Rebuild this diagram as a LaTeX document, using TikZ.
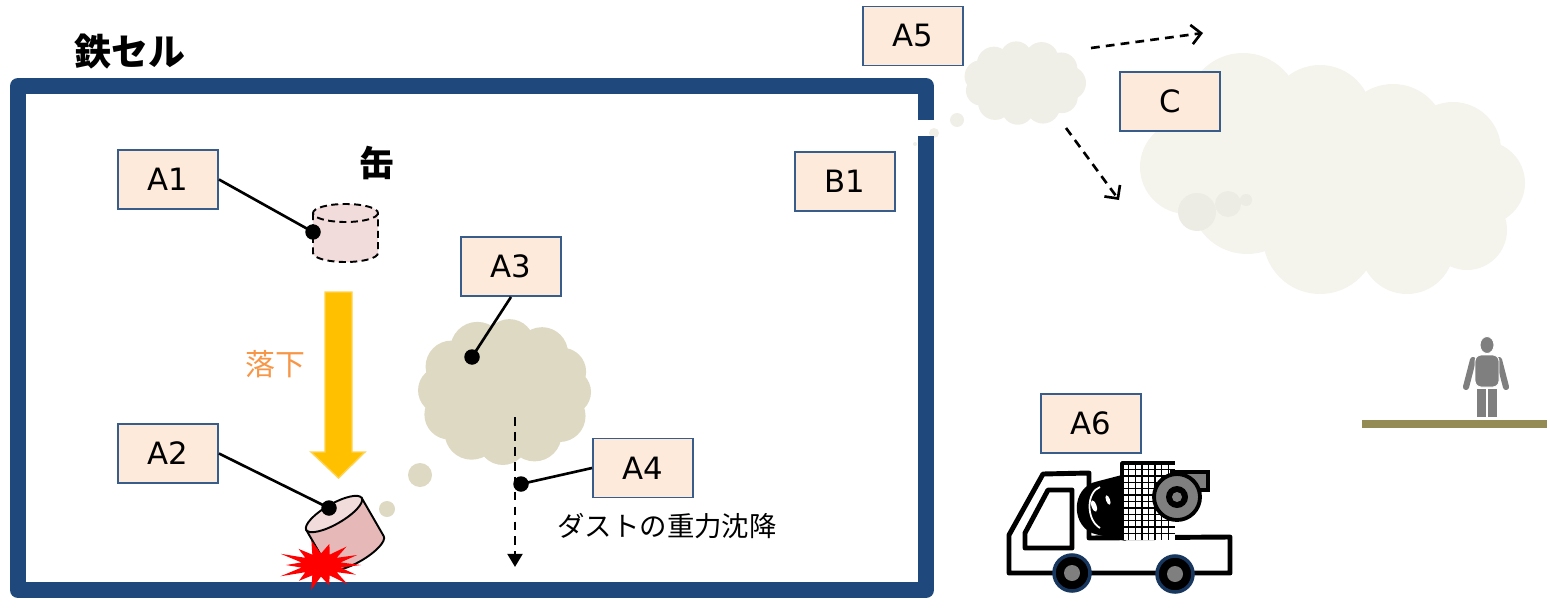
\documentclass[tikz,border=0pt]{standalone}
\usepackage{fontspec}
\setmainfont{DejaVu Sans}
\newfontfamily\jp{Noto Sans CJK JP}
\usetikzlibrary{arrows.meta,calc}

\definecolor{wallblue}{HTML}{1F497D}
\definecolor{lblfill}{HTML}{FDEADA}
\definecolor{lblline}{HTML}{385D8A}
\definecolor{dustA}{HTML}{DDD9C3}
\definecolor{dustB}{HTML}{F0EFE7}
\definecolor{dustC}{HTML}{F4F3EC}
\definecolor{dustCin}{HTML}{EDECE4}
\definecolor{canlight}{HTML}{F2DCDB}
\definecolor{canbody}{HTML}{E6B9B8}
\definecolor{fallyellow}{HTML}{FFC000}
\definecolor{falledge}{HTML}{FFD34D}
\definecolor{falltext}{HTML}{F79646}
\definecolor{burstred}{HTML}{FF0000}
\definecolor{persongray}{HTML}{7F7F7F}
\definecolor{groundolive}{HTML}{948A54}
\definecolor{tyrerim}{HTML}{17375E}

\tikzset{
  lbl/.style={draw=lblline, fill=lblfill, line width=1.1pt, minimum width=2cm,
    minimum height=1.18cm, inner sep=0pt, font=\fontsize{17.5}{20}\selectfont},
  dotmark/.style={circle, fill=black, inner sep=0pt, minimum size=0.31cm},
  conn/.style={line width=1.5pt},
  dashline/.style={line width=1.5pt, dash pattern=on 5pt off 3.5pt},
  cellwall/.style={draw=wallblue, line width=0.32cm, line join=round},
  truckline/.style={line width=2.8pt, line join=round},
}

\begin{document}
\begin{tikzpicture}[x=0.02cm,y=-0.02cm]
\useasboundingbox (0,0) rectangle (1554,598);

% ---------- large outdoor cloud ----------
\begin{scope}[fill=dustC]
  \fill (1243,110) circle[radius=57];
  \fill (1320,117) circle[radius=52];
  \fill (1393,137) circle[radius=53];
  \fill (1453,150) circle[radius=48];
  \fill (1483,183) circle[radius=42];
  \fill (1467,230) circle[radius=40];
  \fill (1407,247) circle[radius=47];
  \fill (1320,237) circle[radius=57];
  \fill (1247,197) circle[radius=57];
  \fill (1187,167) circle[radius=47];
  \fill (1331,176) ellipse[x radius=150, y radius=80];
\end{scope}
\fill[dustCin] (1197,212) circle[radius=19];
\fill[dustCin] (1228,204) circle[radius=13];
\fill[dustCin] (1246,200) circle[radius=6];

% ---------- small cloud leaving the cell ----------
\begin{scope}[fill=dustB]
  \fill (1024,83) ellipse[x radius=48, y radius=28];
  \foreach \a/\r in {0/17, 33/16, 65/17, 98/16, 130/17, 163/15, 195/16, 228/17, 260/16, 293/17, 326/16} {
    \fill ($(1024,83)+(\a:45 and 26)$) circle[radius=\r];
  }
  \fill (957,120) circle[radius=7];
  \fill (934,133) circle[radius=5];
  \fill (915,144) circle[radius=2];
\end{scope}

% ---------- cell wall with a gap on the right ----------
\draw[cellwall] (926,120) -- (926,86) -- (18,86) -- (18,590) -- (926,590) -- (926,136);

% ---------- titles ----------
\node[font=\jp\bfseries\fontsize{21}{24}\selectfont] (celltitle) at (130,52) {鉄セル};
\node[font=\jp\bfseries\fontsize{20}{24}\selectfont] (cantitle) at (377,163) {缶};

% ---------- can before falling (dashed) ----------
\fill[canlight] (313,213) -- (313,253) arc[start angle=180, end angle=0, x radius=32.5, y radius=9] -- (378,213) -- cycle;
\draw[dash pattern=on 4pt off 2.5pt, line width=1.1pt] (313,213) -- (313,253) arc[start angle=180, end angle=0, x radius=32.5, y radius=9] -- (378,213);
\draw[dash pattern=on 4pt off 2.5pt, line width=1.1pt, fill=canlight] (345.5,213) ellipse[x radius=32.5, y radius=9];

% ---------- falling arrow ----------
\fill[fallyellow, draw=falledge, line width=0.8pt]
  (325,292) -- (352,292) -- (352,452) -- (365,452) -- (338.5,478) -- (311,452) -- (325,452) -- cycle;
\node[text=falltext, font=\jp\fontsize{17}{20}\selectfont] (falltxt) at (275,364) {落下};

% ---------- can after the drop (tilted) ----------
\begin{scope}[shift={(334,514)}, rotate=30]
  \filldraw[fill=canbody, line width=1.1pt] (-32,0) -- (-32,44) arc[start angle=180, end angle=0, x radius=32, y radius=10] -- (32,0) -- cycle;
  \filldraw[fill=canlight, line width=1.1pt] (0,0) ellipse[x radius=32, y radius=10];
\end{scope}

% ---------- impact burst ----------
\begin{scope}[shift={(321,565)}]
  \fill[burstred] (0:40 and 23)
    \foreach \i in {1,...,27} {
      -- ({\i*360/28}:{ifthenelse(mod(\i,2)==0,40+5*sin(\i*97),20)} and {ifthenelse(mod(\i,2)==0,23+3*sin(\i*97),11.5)})
    } -- cycle;
\end{scope}

% ---------- dust cloud inside the cell ----------
\begin{scope}[fill=dustA]
  \fill (505,392) ellipse[x radius=70, y radius=55];
  \foreach \a/\r in {0/23, 30/26, 62/27, 92/25, 122/27, 152/25, 182/24, 212/26, 244/27, 274/25, 306/26, 335/24} {
    \fill ($(505,392)+(\a:63 and 48)$) circle[radius=\r];
  }
  \fill (420,475) circle[radius=12];
  \fill (387,509) circle[radius=8];
\end{scope}

% ---------- gravitational settling ----------
\coordinate (fallA) at (515,417);
\coordinate (fallB) at (515,567);
\draw[dashline, -{Triangle[length=7.5pt, width=8.5pt]}] (fallA) -- (fallB);
\node[font=\jp\fontsize{15.6}{18}\selectfont] (settle) at (667,526) {ダストの重力沈降};

% ---------- dispersion arrows outside ----------
\coordinate (outA) at (1091,48);
\coordinate (outB) at (1203,33);
\coordinate (outC) at (1066,128);
\coordinate (outD) at (1119,200);
\draw[dashline, -{Straight Barb[length=5.5pt, width=11pt]}] (outA) -- (outB);
\draw[dashline, -{Straight Barb[length=5.5pt, width=11pt]}] (outC) -- (outD);

% ---------- labels ----------
\node[lbl] (a1) at (168,179.5) {A1};
\node[lbl] (a2) at (168,453.5) {A2};
\node[lbl] (a3) at (511,266.5) {A3};
\node[lbl] (a4) at (643,468) {A4};
\node[lbl] (b1) at (845,181.5) {B1};
\node[lbl] (a5) at (913,36) {A5};
\node[lbl] (c)  at (1170,101.5) {C};
\node[lbl] (a6) at (1091,423.5) {A6};

% ---------- leader lines ----------
\node[dotmark] (d1) at (313,232) {};
\node[dotmark] (d2) at (329,508) {};
\node[dotmark] (d3) at (472,357) {};
\node[dotmark] (d4) at (521,484) {};
\draw[conn] (a1.east) -- (d1.center);
\draw[conn] (a2.east) -- (d2.center);
\draw[conn] (a3.south) -- (d3.center);
\draw[conn] (a4.west) -- (d4.center);

% ---------- truck with sweeper ----------
\draw[truckline, fill=white]
  (1009,573) -- (1009,535) -- (1043,474) -- (1089,473) -- (1089,538)
  -- (1230,537) -- (1230,573) -- cycle;
\draw[truckline] (1048,490) -- (1072,490) -- (1072,548) -- (1025,548) -- (1025,533) -- cycle;
% drum
\filldraw[line width=2pt, line join=round] (1125,476) -- (1098,483)
  .. controls (1072,488) and (1072,528) .. (1098,533) -- (1125,539) -- cycle;
\draw[white, line width=1pt] (1100,487) .. controls (1086,492) and (1086,520) .. (1100,528);
\fill[white, rotate around={20:(1094,506)}] (1094,506) ellipse[x radius=2.5, y radius=6];
\fill[white, rotate around={20:(1108,500)}] (1108,500) ellipse[x radius=2, y radius=5];
% screen
\fill[white] (1122,463) rectangle (1175,540);
\foreach \k in {1,...,7} {
  \draw[line width=0.8pt] ({1122+\k*6.6},463) -- ({1122+\k*6.6},540);
}
\foreach \k in {1,...,11} {
  \draw[line width=0.8pt] (1122,{463+\k*6.4}) -- (1175,{463+\k*6.4});
}
\draw[line width=2.2pt, line join=round] (1122,540) -- (1122,463) -- (1175,463);
% motor
\filldraw[fill=persongray, line width=2pt] (1172,472) rectangle (1208,490);
\filldraw[fill=persongray, line width=2.2pt] (1177,497) circle[radius=23];
\fill[black] (1177,497) circle[radius=11];
\fill[persongray] (1177,497) circle[radius=5];
% wheels
\filldraw[fill=black, draw=tyrerim, line width=2pt] (1072,573) circle[radius=18];
\fill[persongray] (1072,573) circle[radius=8];
\filldraw[fill=black, draw=tyrerim, line width=2pt] (1175,574) circle[radius=18];
\fill[persongray] (1175,574) circle[radius=8];

% ---------- receptor person ----------
\fill[groundolive] (1362,420) rectangle (1547,428);
\begin{scope}[fill=persongray, draw=white, line width=0.5pt]
  \filldraw (1487,345) ellipse[x radius=7, y radius=8.5];
  \draw[persongray, line width=3.5pt, line cap=round] (1473,360) -- (1466,387);
  \draw[persongray, line width=3.5pt, line cap=round] (1499,360) -- (1506,387);
  \filldraw[rounded corners=3.5pt] (1475,355) rectangle (1499,387);
  \filldraw (1476,388) rectangle (1486.5,417);
  \filldraw (1487.5,388) rectangle (1497.5,417);
\end{scope}
\end{tikzpicture}
\end{document}
